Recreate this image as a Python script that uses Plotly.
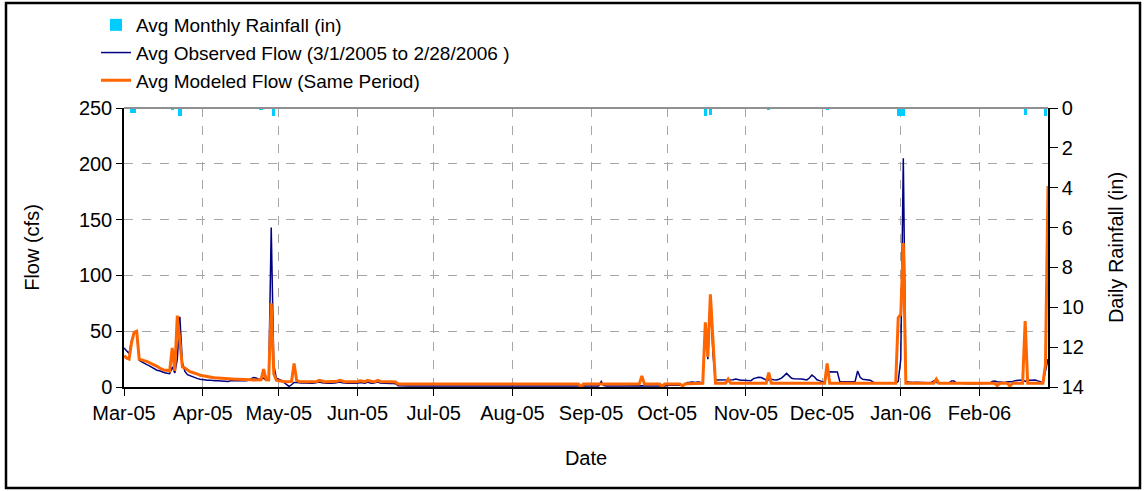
import pandas as pd
import plotly.graph_objects as go

# Daily average flow (cfs), 3/1/2005 - 2/28/2006, listed month by month
obs_mar = [35, 32, 30, 42, 49, 48, 24, 22.5, 21, 20, 19, 17.5, 16, 15, 14.5, 13.5,
           12.8, 12.3, 12, 18, 12.5, 25, 63, 22, 14, 11, 10, 9, 8, 7.5, 7]
obs_apr = [6.5, 6.3, 6, 6, 5.5, 5.5, 5.5, 5.4, 5, 5, 5, 5.5, 5.5, 5, 5, 5, 5, 5.5,
           6, 7.5, 8.5, 8, 7, 7, 8, 6, 6, 143, 20, 8]
obs_may = [7, 6, 4, 2, 0.5, 2, 4, 4, 3.5, 3.5, 3.5, 3.3, 3.3, 3.3, 3.5, 4, 4.5, 3.8,
           3.3, 3.3, 3.3, 3.3, 3.5, 4, 4.5, 3.8, 3.3, 3.3, 3.3, 3.3, 3.3]
obs_jun = [3.3, 4, 3.5, 3.3, 4.5, 3.5, 3.3, 3.8, 4.5, 3.5, 3.3, 3.3, 3.3, 3.2, 3.2, 3,
           1.2, 1, 0.9, 1, 0.9, 0.9, 1, 1, 0.9, 0.9, 1, 0.9, 0.9, 1]
obs_jul = [0.9, 1, 1, 0.9, 0.8, 0.9, 1, 1.1, 1, 0.9, 0.9, 0.8, 0.9, 1, 1, 0.9,
           0.9, 1, 1.1, 1, 0.9, 0.8, 0.9, 0.9, 1, 1, 0.9, 0.9, 0.8, 0.9, 1]
obs_aug = [1, 0.9, 0.9, 1, 1, 0.9, 0.8, 0.9, 1, 1, 0.9, 0.9, 1, 1.1, 1, 0.9,
           0.9, 0.8, 0.9, 1, 1, 0.9, 0.9, 1, 1, 0.9, 0.8, 0.9, 1, 1, 0.9]
obs_sep = [0.9, 1, 1, 1, 5, 1.2, 1, 0.9, 0.9, 1, 1, 0.9, 0.9, 1, 1.1, 1,
           0.9, 0.9, 1, 1, 1.2, 1, 0.9, 0.9, 1, 1, 1.1, 1, 0.9, 1]
obs_oct = [1.5, 1.5, 1.5, 1.5, 1.5, 1.5, 1.5, 2.5, 4, 4.2, 4.5, 4, 4.5, 4.2, 4, 55,
           25, 80, 30, 6.3, 6.3, 6.3, 6.3, 6.3, 6, 6, 6.5, 7.2, 6.5, 6, 6]
obs_nov = [6, 6, 5.7, 7.5, 8, 8.7, 8.5, 7.5, 6.3, 6.3, 7, 6.5, 6.3, 7, 8, 10,
           12.2, 10, 7.8, 7.5, 7.5, 7.2, 7.2, 6.8, 6.3, 8, 10.7, 9, 6.5, 5.7]
obs_dec = [4.8, 5, 12, 13.7, 13.7, 13.7, 13.5, 4.8, 4.8, 4.8, 4.8, 4.8, 4.8, 5, 14.3, 8.7,
           6.9, 6.5, 6.1, 6.1, 4.5, 3.4, 3.3, 3.3, 3.3, 3.3, 3.3, 3.8, 3.3, 3.3, 5]
obs_jan = [25, 205, 5, 4.5, 4, 4, 4.2, 4, 3.8, 4, 4, 3.8, 4, 5.4, 4, 3.5,
           3.5, 3.5, 3.3, 3.5, 5.4, 5.4, 3.5, 3.3, 3, 3, 3, 3, 3, 3, 3]
obs_feb = [3, 3, 3, 3.3, 3.3, 5, 5.4, 4.8, 4.5, 4.2, 4, 4.8, 5, 4.8, 5.7, 5.7,
           6.3, 6.3, 5, 6.1, 6.1, 6.3, 6.3, 5.5, 4.8, 3.3, 15, 25]

mod_mar = [28, 26, 25, 40, 49, 50, 25, 24, 23.5, 23, 22, 21, 20, 18.5, 17, 16,
           15, 15, 14.5, 35, 14.5, 64, 40, 18, 17, 15, 13.7, 13, 12.5, 11.5, 10.5]
mod_apr = [10, 9.5, 9, 8.5, 8.5, 8, 8, 7.8, 7.5, 7.5, 7.3, 7.2, 7.2, 7, 7, 7,
           6.8, 6.8, 6.5, 6.5, 6.3, 6.5, 6.5, 6.5, 16, 6.5, 6.3, 75, 12, 6]
mod_may = [5.5, 5, 5, 4.7, 4.7, 5, 21, 6, 5, 4.7, 4.7, 4.7, 4.8, 4.7, 4.7, 5,
           6, 5, 4.7, 4.7, 4.7, 4.7, 4.8, 5.2, 6, 5, 4.7, 4.7, 4.7, 4.7, 4.7]
mod_jun = [4.7, 5.5, 5, 4.8, 6, 5, 4.7, 5, 6, 5, 4.7, 4.7, 4.7, 4.7, 4.5, 4.5,
           2.7, 2.7, 2.7, 2.7, 2.7, 2.7, 2.7, 2.7, 2.7, 2.7, 2.7, 2.7, 2.7, 2.7]
mod_jul = [2.7, 2.7, 2.7, 2.7, 2.7, 2.7, 2.7, 2.7, 2.7, 2.7, 2.7, 2.7, 2.7, 2.7, 2.7, 2.7,
           2.7, 2.7, 2.7, 2.7, 2.7, 2.7, 2.7, 2.7, 2.7, 2.7, 2.7, 2.7, 2.7, 2.7, 2.7]
mod_aug = [2.7, 2.7, 2.7, 2.7, 2.7, 2.7, 2.7, 2.7, 2.7, 2.7, 2.7, 2.7, 2.7, 2.7, 2.7, 2.7,
           2.7, 2.7, 2.7, 2.7, 2.7, 2.7, 2.7, 2.7, 2.7, 2.7, 2.7, 0.3, 2.7, 2.7, 2.7]
mod_sep = [2.7, 2.7, 2.7, 2.7, 2.7, 2.7, 2.7, 2.7, 2.7, 2.7, 2.7, 2.7, 2.7, 2.7, 2.7, 2.7,
           2.7, 2.7, 2.7, 2.7, 10, 2.7, 2.7, 2.7, 2.7, 2.7, 2.7, 2.7, 0.5, 2.7]
mod_oct = [2.7, 2.7, 2.7, 2.7, 2.7, 2.7, 1, 2.7, 3, 3, 3, 3, 3, 3, 3.3, 58,
           27, 83, 40, 3.3, 3.3, 3.3, 3.3, 3.3, 7, 3.3, 3.3, 3.3, 3.3, 3.3, 3.3]
mod_nov = [3.3, 3.3, 3.3, 3.3, 3.3, 3.3, 3.3, 3.3, 3.3, 12.8, 3.3, 3.3, 3.3, 3.3, 3.3, 3.3,
           3.3, 3.3, 3.3, 3.3, 3.3, 3.3, 3.3, 3.3, 3.3, 3.3, 3.3, 3.3, 3.3, 3.3]
mod_dec = [3.3, 3.3, 21, 3.3, 3.3, 3.3, 3.3, 3.3, 3.3, 3.3, 3.3, 3.3, 3.3, 3.3, 3.3, 3.3,
           3.3, 3.3, 3.3, 3.3, 3.3, 3.3, 3.3, 3.3, 3.3, 3.3, 3.3, 3.3, 3.3, 3.3, 62]
mod_jan = [65, 129, 3.3, 3.3, 3.3, 3.3, 3.3, 3.3, 3.3, 3.3, 3.3, 3.3, 3.3, 3.3, 7, 3.3,
           3.3, 3.3, 3.3, 3.3, 3.3, 3.3, 3.3, 3.3, 3.3, 3.3, 3.3, 3.3, 3.3, 3.3, 3.3]
mod_feb = [3.3, 3.3, 3.3, 3.3, 3.3, 3.3, 3.3, 1.3, 3.3, 3.3, 3.3, 3.3, 0.7, 3.3, 3.3, 3.3,
           3.3, 3.3, 59, 3.3, 3.3, 3.3, 3.3, 3.3, 3.3, 3.3, 20, 180]

# Daily rainfall (in) on the days it rained
rain_dates = ["2005-03-04", "2005-03-05", "2005-03-12", "2005-03-20", "2005-03-23",
              "2005-04-24", "2005-04-29", "2005-05-07", "2005-10-16", "2005-10-18",
              "2005-10-24", "2005-11-10", "2005-12-03", "2005-12-31", "2006-01-01",
              "2006-01-02", "2006-01-15", "2006-02-19", "2006-02-27"]
rain_in = [0.23, 0.23, 0.03, 0.07, 0.4, 0.07, 0.4, 0.03, 0.4, 0.34,
           0.03, 0.07, 0.07, 0.4, 0.4, 0.4, 0.03, 0.34, 0.4]

obs_flow = (obs_mar + obs_apr + obs_may + obs_jun + obs_jul + obs_aug +
            obs_sep + obs_oct + obs_nov + obs_dec + obs_jan + obs_feb)
mod_flow = (mod_mar + mod_apr + mod_may + mod_jun + mod_jul + mod_aug +
            mod_sep + mod_oct + mod_nov + mod_dec + mod_jan + mod_feb)
dates = pd.date_range("2005-03-01", "2006-02-28", freq="D")
assert len(obs_flow) == len(dates) == len(mod_flow)

FONT = "Arial, Liberation Sans, sans-serif"
GRID = "#A6A6A6"
DAY_MS = 86400000

fig = go.Figure()
fig.add_trace(go.Bar(
    x=rain_dates, y=rain_in, yaxis="y2", name="Avg Monthly Rainfall (in)",
    marker=dict(color="#00CCFF", line=dict(width=0)), width=1.3 * DAY_MS,
))
fig.add_trace(go.Scatter(
    x=dates, y=obs_flow, mode="lines",
    name="Avg Observed Flow (3/1/2005 to 2/28/2006 )",
    line=dict(color="#000080", width=1.5),
))
fig.add_trace(go.Scatter(
    x=dates, y=mod_flow, mode="lines",
    name="Avg Modeled Flow (Same Period)",
    line=dict(color="#FF6600", width=3),
))

# plot area spans 124..1048 px horizontally and 108..387 px vertically
PW, PH = 924, 279

fig.update_layout(
    width=1146, height=491,
    margin=dict(l=124, r=98, t=108, b=104, autoexpand=False),
    paper_bgcolor="white", plot_bgcolor="white",
    font=dict(family=FONT, size=20, color="black"),
    showlegend=True,
    legend=dict(
        x=(96 - 124) / PW, y=(387 - 6) / PH, xanchor="left", yanchor="top",
        font=dict(size=19), bgcolor="rgba(0,0,0,0)", traceorder="normal",
    ),
    bargap=0,
    xaxis=dict(
        type="date", range=["2005-03-01", "2006-02-28"],
        tick0="2005-03-01", dtick="M1", tickformat="%b-%y",
        showgrid=True, gridcolor=GRID, griddash="dash", gridwidth=1,
        ticks="outside", ticklen=7, tickcolor="black",
        showline=True, linecolor="black", linewidth=1.5, zeroline=False,
        title=dict(text="Date", font=dict(size=20), standoff=28),
    ),
    yaxis=dict(
        range=[0, 250], dtick=50,
        showgrid=True, gridcolor=GRID, griddash="dash", gridwidth=1,
        ticks="outside", ticklen=6, tickcolor="black",
        showline=True, linecolor="black", linewidth=1.5, zeroline=False,
        title=dict(text="Flow (cfs)", font=dict(size=20), standoff=34),
    ),
    yaxis2=dict(
        overlaying="y", side="right", range=[14, 0], dtick=2,
        showgrid=False, ticks="outside", ticklen=8, tickcolor="black",
        showline=True, linecolor="black", linewidth=1.5, zeroline=False,
        title=dict(text="Daily Rainfall (in)", font=dict(size=20), standoff=26),
    ),
    shapes=[
        # solid top edge of the plot area
        dict(type="line", xref="paper", yref="paper", x0=0, x1=1, y0=1, y1=1,
             line=dict(color="#909090", width=2)),
        # outer frame around the whole chart
        dict(type="rect", xref="paper", yref="paper",
             x0=(6 - 124) / PW, x1=(1140 - 124) / PW,
             y0=(387 - 488) / PH, y1=(387 - 3) / PH,
             line=dict(color="black", width=2.5)),
    ],
)

fig.write_html("out.html")
